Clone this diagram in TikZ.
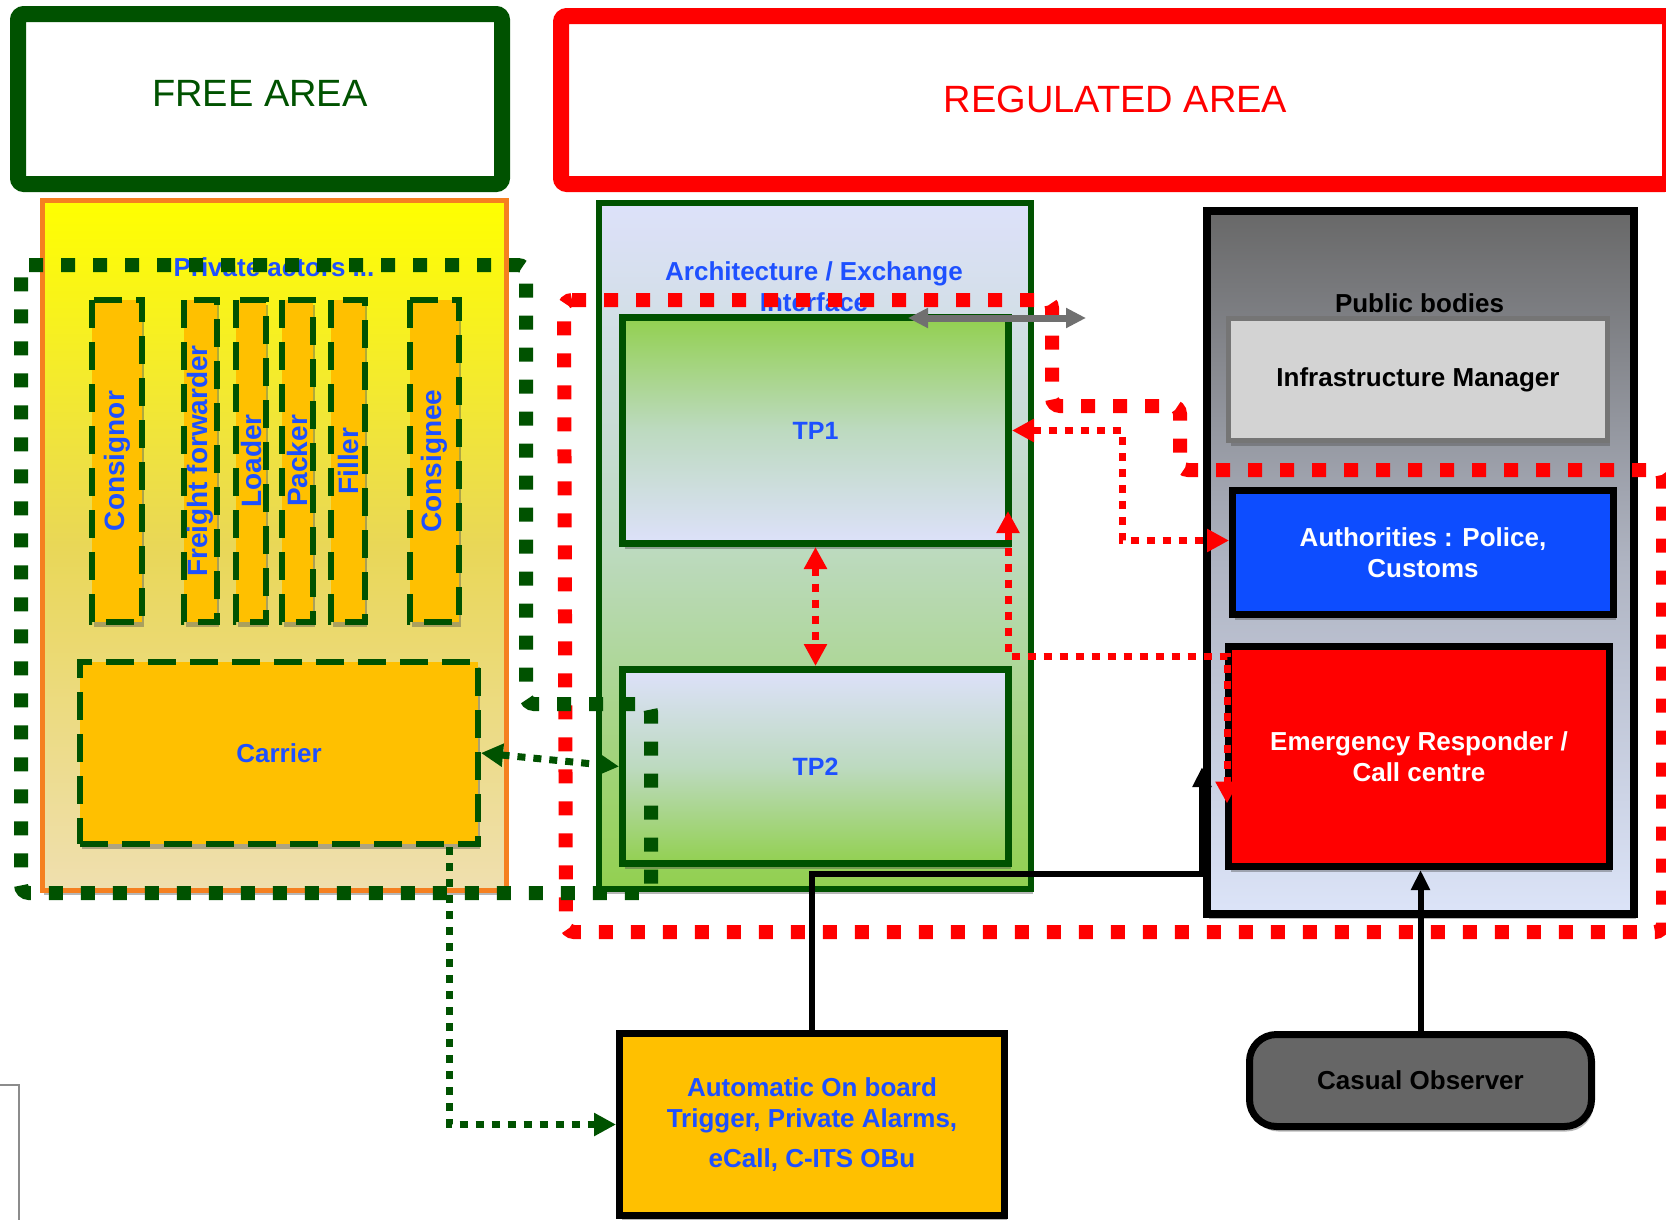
\documentclass[tikz,border=0pt]{standalone}
\usepackage{fontspec}
\setmainfont{Liberation Sans}
\usetikzlibrary{arrows.meta,shadows}

\definecolor{dgreen}{RGB}{0,82,0}
\definecolor{txtblue}{RGB}{30,80,255}
\definecolor{orangefill}{RGB}{255,192,0}
\definecolor{pborder}{RGB}{245,128,32}
\definecolor{lav}{RGB}{221,225,250}
\definecolor{lgreen}{RGB}{146,208,80}
\definecolor{mgreen}{RGB}{189,218,192}
\definecolor{authblue}{RGB}{13,77,255}
\definecolor{infragray}{RGB}{211,211,211}
\definecolor{infraedge}{RGB}{117,117,117}
\definecolor{obsgray}{RGB}{102,102,102}
\definecolor{arrgray}{RGB}{112,112,112}
\definecolor{pubtop}{RGB}{104,104,104}
\definecolor{pubmid}{RGB}{175,180,194}
\definecolor{pubbot}{RGB}{220,228,248}
\definecolor{privtop}{RGB}{255,255,0}
\definecolor{privmid}{RGB}{233,215,87}
\definecolor{privbot}{RGB}{239,223,175}

\newcommand\setfs[1]{\fontsize{#1pt}{31pt}\selectfont}

\tikzset{
  box/.style={rectangle, inner sep=0pt, align=center},
  shd/.style={drop shadow={shadow xshift=2pt,shadow yshift=-5pt,opacity=0.4,fill=black!70}},
  areabox/.style={box, line width=16pt, fill=white, rounded corners=6pt, font=\setfs{38}},
  actor/.style={box, shd, draw=dgreen, fill=orangefill, line width=6pt,
    dash pattern=on 28pt off 14pt, rotate=90, minimum width=322pt,
    text=txtblue, font=\bfseries\setfs{28}},
  tpbox/.style={box, shd, draw=dgreen, line width=7pt, text=txtblue, font=\bfseries\setfs{25}},
  blackbox/.style={box, shd, draw=black, line width=7pt, font=\bfseries\setfs{26}},
  caption/.style={inner sep=0pt, align=center, font=\bfseries\setfs{26}},
  bigdots/.style={line width=14pt, dash pattern=on 14pt off 18pt, rounded corners=8pt},
  reddots/.style={draw=red, line width=7pt, dash pattern=on 8pt off 8pt,
    arrows={Triangle[length=22pt,width=22pt]-Triangle[length=22pt,width=22pt]}},
  greendots/.style={draw=dgreen, line width=7pt, dash pattern=on 8pt off 8pt},
  blackline/.style={draw=black, line width=6pt, arrows={-Triangle[length=20pt,width=18pt]}},
  grayarrow/.style={draw=arrgray, line width=7pt,
    arrows={Triangle[length=20pt,width=19pt]-Triangle[length=20pt,width=19pt]}},
}

\begin{document}
\begin{tikzpicture}[x=1pt,y=-1pt]
\useasboundingbox (0,0) rectangle (1666,1219);
\clip (0,0) rectangle (1666,1219);

% area headers
\node[areabox, draw=dgreen, text=dgreen, text depth=12pt, minimum width=484pt, minimum height=170pt]
  (free) at (260,99) {FREE AREA};
\node[areabox, draw=red, text=red, text depth=2pt, minimum width=1109pt, minimum height=168pt]
  (regulated) at (1115.5,100) {REGULATED AREA};

% private actors
\node[box, shd, draw=pborder, line width=5pt, top color=privtop, bottom color=privbot, middle color=privmid,
  minimum width=464pt, minimum height=690pt] (private) at (274,545) {};
\node[caption, text=txtblue] (privlabel) at (274,267) {Private actors ...};

\node[actor, minimum height=50pt] (consignor) at (117,461) {Consignor};
\node[actor, minimum height=33pt] (freight) at (200.5,461) {Freight  forwarder};
\node[actor, minimum height=30pt] (loader) at (251,461) {Loader};
\node[actor, minimum height=31pt] (packer) at (297.5,461) {Packer};
\node[actor, minimum height=34pt] (filler) at (348,461) {Filler};
\node[actor, minimum height=49pt] (consignee) at (434.5,461) {Consignee};

\node[box, shd, draw=dgreen, fill=orangefill, line width=6pt, dash pattern=on 28pt off 14pt,
  minimum width=398pt, minimum height=182pt, text=txtblue, font=\bfseries\setfs{26}]
  (carrier) at (279,753) {Carrier};

% architecture / exchange interface
\node[box, shd, draw=dgreen, line width=6pt, top color=lav, bottom color=lgreen, middle color=mgreen,
  minimum width=432pt, minimum height=686pt] (arch) at (815,546) {};
\node[caption, text=txtblue] (archlabel) at (814,287) {Architecture / Exchange\\Interface};
\node[tpbox, top color=lgreen, bottom color=lav, middle color=mgreen,
  minimum width=386pt, minimum height=226pt] (tp1) at (815.5,430.5) {TP1};
\node[tpbox, top color=lav, bottom color=lgreen, middle color=mgreen,
  minimum width=386pt, minimum height=194pt] (tp2) at (815.5,766.5) {TP2};

% public bodies
\node[box, shd, draw=black, line width=8pt, top color=pubtop, bottom color=pubbot, middle color=pubmid,
  minimum width=427pt, minimum height=703pt] (public) at (1420.5,562.5) {};
\node[caption] (publabel) at (1419.5,303) {Public bodies};
\node[box, shd, draw=infraedge, fill=infragray, line width=5pt, font=\bfseries\setfs{26},
  minimum width=379pt, minimum height=122pt] (infra) at (1418,379.5) {Infrastructure Manager};
\node[blackbox, fill=authblue, text=white, minimum width=381pt, minimum height=124pt]
  (auth) at (1423,552.5) {Authorities : Police,\\Customs};
\node[blackbox, fill=red, text=white, minimum width=381pt, minimum height=220pt]
  (emerg) at (1419,756.5) {Emergency Responder /\\Call centre};

% bottom row
\node[blackbox, fill=orangefill, text=txtblue, minimum width=385pt, minimum height=182pt]
  (auto) at (812,1124.5) {Automatic On board\\Trigger, Private Alarms,\\[9pt]eCall, C-ITS OBu};
\node[blackbox, fill=obsgray, rounded corners=27pt, minimum width=342pt, minimum height=92pt]
  (casual) at (1420.5,1080.5) {Casual Observer};

\draw[black!45, line width=1.5pt] (-5,1085) rectangle (19,1240);

% regulated and private envelopes
\draw[red, bigdots] (564,300) -- (1052,300) -- (1052,406) -- (1180,406) -- (1180,470)
  -- (1663,470) -- (1663,932) -- (566,932) -- cycle;
\draw[dgreen, bigdots] (21,265) -- (526,265) -- (526,704) -- (651,704) -- (651,893)
  -- (21,893) -- cycle;

% exchanges
\draw[reddots] (tp1.south) -- (tp2.north);
\draw[reddots] (tp1.east) -- ++(110,0) |- ([yshift=12pt]auth.west);
\draw[reddots] ([xshift=-4pt,yshift=36pt]tp1.south east) -- ++(0,145)
  -| ([xshift=2pt,yshift=-47pt]emerg.west);

\draw[greendots, arrows={Triangle[length=22pt,width=22pt]-Triangle[length=20pt,width=20pt]}]
  (carrier.east) -- (tp2.west);
\draw[greendots, arrows={-Triangle[length=22pt,width=22pt]}]
  ([xshift=170pt]carrier.south) |- (auto.west);

\draw[blackline] (auto.north) |- ++(390,-156.5) -- ([xshift=-23pt,yshift=-10.5pt]emerg.west);
\draw[blackline] (casual.north) -- (casual.north |- emerg.south);

\coordinate (gl) at (908,318);
\coordinate (gr) at (1086,318);
\draw[grayarrow] (gl) -- (gr);
\end{tikzpicture}
\end{document}
